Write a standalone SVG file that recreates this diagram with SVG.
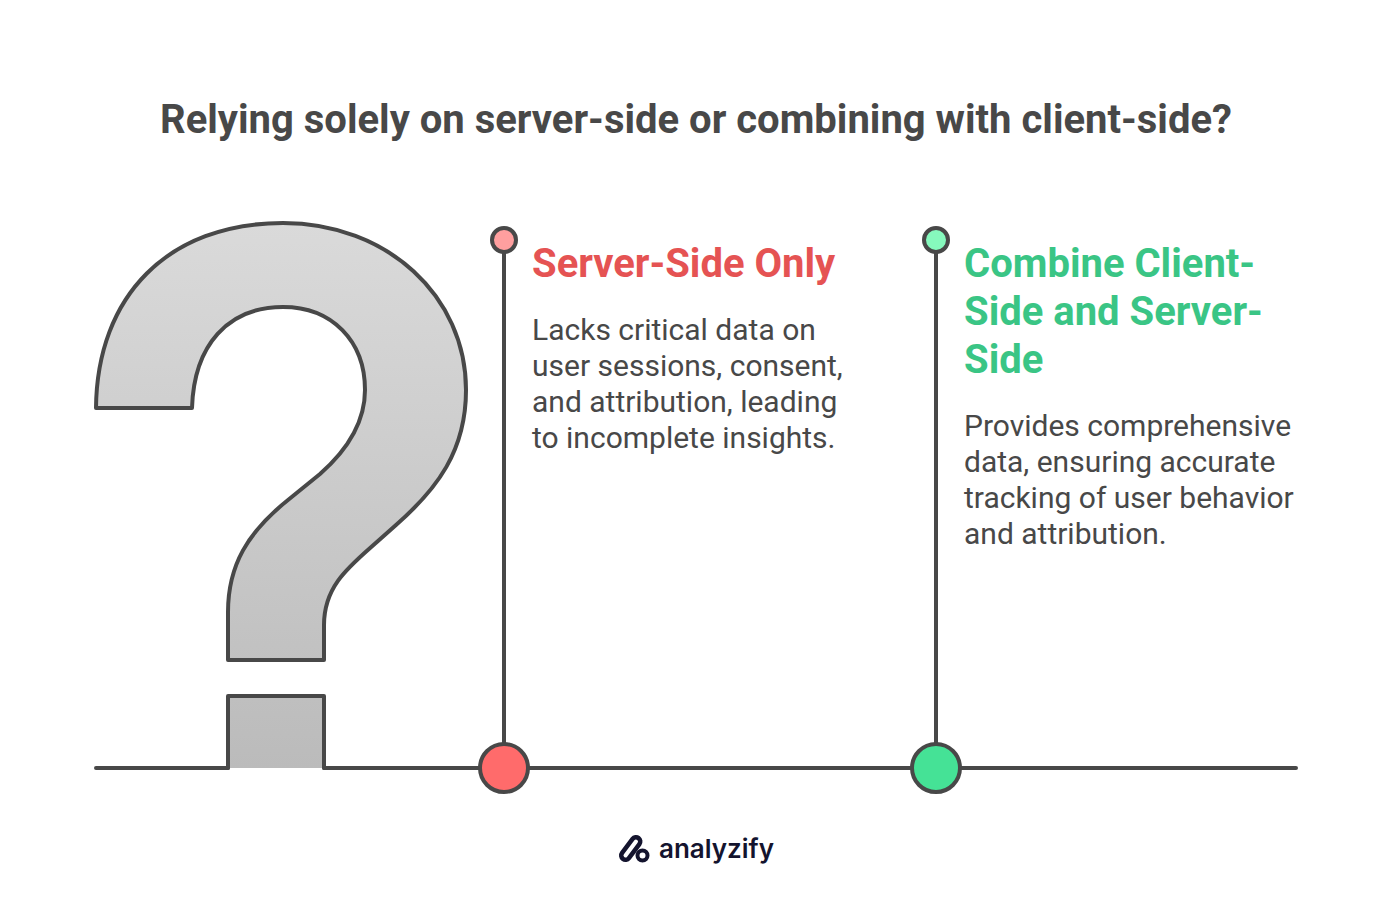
<svg xmlns="http://www.w3.org/2000/svg" width="1392" height="923" viewBox="0 0 1392 923">
<style>
text{font-family:Roboto,"Liberation Sans",sans-serif}
.title{font-size:40px;font-weight:700;fill:#484848}
.h{font-size:40px;font-weight:700}
.red{fill:#e55353}
.green{fill:#3ac585}
.b{font-size:30px;font-weight:400;fill:#484848}
.ln{fill:none;stroke:#484848;stroke-width:4;stroke-linecap:round;stroke-linejoin:round}
.dot{stroke:#484848;stroke-width:4}
.logo{fill:none;stroke:#14142e;stroke-linecap:round}
</style>
<defs><linearGradient id="g" gradientUnits="userSpaceOnUse" x1="0" y1="223" x2="0" y2="768"><stop offset="0" stop-color="#dadada"/><stop offset="1" stop-color="#bbbbbb"/></linearGradient></defs>
<rect width="1392" height="923" fill="#fff"/>
<text class="title" x="696" y="133" text-anchor="middle">Relying solely on server-side or combining with client-side?</text>
<g id="connectors">
<path class="ln" d="M96 768H228M324 768H1296"/>
<path class="ln" d="M504 252V744"/>
<path class="ln" d="M936 252V744"/>
</g>
<g id="question-mark">
<path class="ln" style="fill:url(#g)" d="M96 408C97 296 168 223 283 223C387 223 466 296 466 390C466 451 437 489 396 525L378 541C350 566 324 585 324 625V660H228V612C228 565 248 532 288 500L320 474C345 452 365 424 365 390C365 341 332 307 283 307C228 307 194 345 192 408Z"/>
<path class="ln" style="fill:url(#g)" d="M228 768V696H324V768"/>
</g>
<g id="server-side">
<circle class="dot" cx="504" cy="240" r="12" fill="#ff9f9f"/>
<circle class="dot" cx="504" cy="768" r="24" fill="#ff6b6b"/>
<text class="h red" x="532" y="277">Server-Side Only</text>
<text class="b" x="532" y="340">Lacks critical data on</text>
<text class="b" x="532" y="376">user sessions, consent,</text>
<text class="b" x="532" y="412">and attribution, leading</text>
<text class="b" x="532" y="448">to incomplete insights.</text>
</g>
<g id="combine">
<circle class="dot" cx="936" cy="240" r="12" fill="#86f9bd"/>
<circle class="dot" cx="936" cy="768" r="24" fill="#45e296"/>
<text class="h green" x="964" y="277">Combine Client-</text>
<text class="h green" x="964" y="325">Side and Server-</text>
<text class="h green" x="964" y="373">Side</text>
<text class="b" x="964" y="436">Provides comprehensive</text>
<text class="b" x="964" y="472">data, ensuring accurate</text>
<text class="b" x="964" y="508">tracking of user behavior</text>
<text class="b" x="964" y="544">and attribution.</text>
</g>
<g id="logo">
<path class="logo" stroke-width="13" d="M625.5 855.5L636 841.5"/>
<path stroke="#fff" stroke-width="4" stroke-linecap="round" fill="none" d="M625.5 855.5L636 841.5"/>
<circle cx="642.5" cy="855.5" r="5" fill="#fff" stroke="#14142e" stroke-width="4"/>
<text x="659" y="858" style="font-family:Inter,sans-serif;font-size:26px;font-weight:600" fill="#14142e">analyzify</text>
</g>
</svg>
